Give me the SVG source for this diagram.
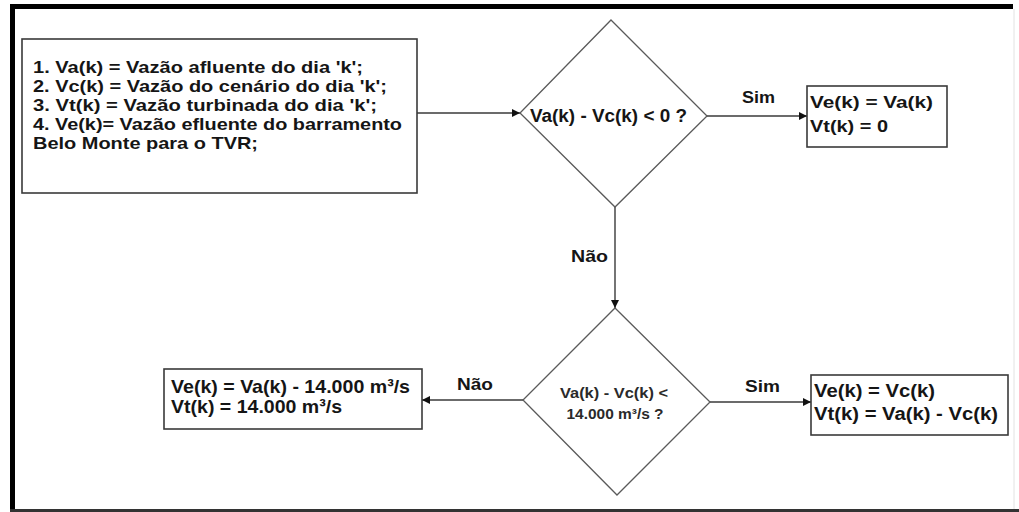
<svg xmlns="http://www.w3.org/2000/svg" width="1019" height="512" viewBox="0 0 1019 512">
<style>
  text { font-family: "Liberation Sans", Arial, sans-serif; font-weight: bold; fill: #151515; }
  .box { fill: #fff; stroke: #3a3a3a; stroke-width: 1.6; }
  .dia { fill: #fff; stroke: #5a5a5a; stroke-width: 1.3; }
  .con { fill: none; stroke: #3a3a3a; stroke-width: 1.4; marker-end: url(#ah); }
  .lbl { font-size: 17px; }
  .leg { font-size: 17px; }
  .d2t { font-size: 14px; fill: #2a2a2a; }
</style>
<defs>
  <marker id="ah" markerUnits="userSpaceOnUse" markerWidth="9" markerHeight="8" refX="8" refY="4" orient="auto">
    <path d="M0,0 L8,4 L0,8 z" fill="#111"/>
  </marker>
</defs>
<rect x="0" y="0" width="1019" height="512" fill="#fff"/>
<g id="frame">
  <rect x="10" y="4" width="1003" height="5" fill="#000"/>
  <rect x="10" y="4" width="5" height="508" fill="#000"/>
  <rect x="10" y="509" width="1009" height="3" fill="#333"/>
  <line x1="1014" y1="9" x2="1014" y2="509" stroke="#e2e2e2" stroke-width="1"/>
</g>
<g id="connectors">
  <line class="con" x1="417" y1="113" x2="520" y2="113"/>
  <line class="con" x1="707" y1="116" x2="807" y2="116"/>
  <line class="con" x1="615" y1="207" x2="615" y2="308"/>
  <line class="con" x1="523" y1="400" x2="422" y2="400"/>
  <line class="con" x1="710" y1="402" x2="811" y2="402"/>
  <text class="lbl" x="742" y="103" textLength="33" lengthAdjust="spacingAndGlyphs">Sim</text>
  <text class="lbl" x="571" y="262" textLength="37" lengthAdjust="spacingAndGlyphs">Não</text>
  <text class="lbl" x="457" y="390" textLength="36" lengthAdjust="spacingAndGlyphs">Não</text>
  <text class="lbl" x="745" y="392" textLength="35" lengthAdjust="spacingAndGlyphs">Sim</text>
</g>
<g id="legend">
  <rect class="box" x="22" y="39" width="395" height="154"/>
  <text class="leg" x="33" y="73" textLength="330" lengthAdjust="spacingAndGlyphs">1. Va(k) = Vazão afluente do dia 'k';</text>
  <text class="leg" x="33" y="92" textLength="354" lengthAdjust="spacingAndGlyphs">2. Vc(k) = Vazão do cenário do dia 'k';</text>
  <text class="leg" x="33" y="111" textLength="344" lengthAdjust="spacingAndGlyphs">3. Vt(k) = Vazão turbinada do dia 'k';</text>
  <text class="leg" x="33" y="130" textLength="369" lengthAdjust="spacingAndGlyphs">4. Ve(k)= Vazão efluente do barramento</text>
  <text class="leg" x="33" y="149" textLength="225" lengthAdjust="spacingAndGlyphs">Belo Monte para o TVR;</text>
</g>
<g id="decision1">
  <polygon class="dia" points="611,20 707,116 615,207 520,113"/>
  <text x="530" y="122" font-size="18" textLength="157" lengthAdjust="spacingAndGlyphs">Va(k) - Vc(k) &lt; 0 ?</text>
</g>
<g id="result1">
  <rect class="box" x="807" y="86" width="140" height="61"/>
  <text x="810" y="108" font-size="17" textLength="123" lengthAdjust="spacingAndGlyphs">Ve(k) = Va(k)</text>
  <text x="810" y="132" font-size="17" textLength="78" lengthAdjust="spacingAndGlyphs">Vt(k) = 0</text>
</g>
<g id="decision2">
  <polygon class="dia" points="615,308 710,402 617,495 523,400"/>
  <text class="d2t" x="614" y="398" text-anchor="middle" textLength="108" lengthAdjust="spacingAndGlyphs">Va(k) - Vc(k) &lt;</text>
  <text class="d2t" x="615" y="419" text-anchor="middle" textLength="97" lengthAdjust="spacingAndGlyphs">14.000 m³/s ?</text>
</g>
<g id="result2">
  <rect class="box" x="164" y="369" width="258" height="60"/>
  <text x="171" y="393" font-size="19" textLength="239" lengthAdjust="spacingAndGlyphs">Ve(k) = Va(k) - 14.000 m³/s</text>
  <text x="171" y="413" font-size="19" textLength="171" lengthAdjust="spacingAndGlyphs">Vt(k) = 14.000 m³/s</text>
</g>
<g id="result3">
  <rect class="box" x="811" y="375" width="197" height="60"/>
  <text x="814" y="397" font-size="18" textLength="121" lengthAdjust="spacingAndGlyphs">Ve(k) = Vc(k)</text>
  <text x="814" y="420" font-size="18" textLength="184" lengthAdjust="spacingAndGlyphs">Vt(k) = Va(k) - Vc(k)</text>
</g>
</svg>
